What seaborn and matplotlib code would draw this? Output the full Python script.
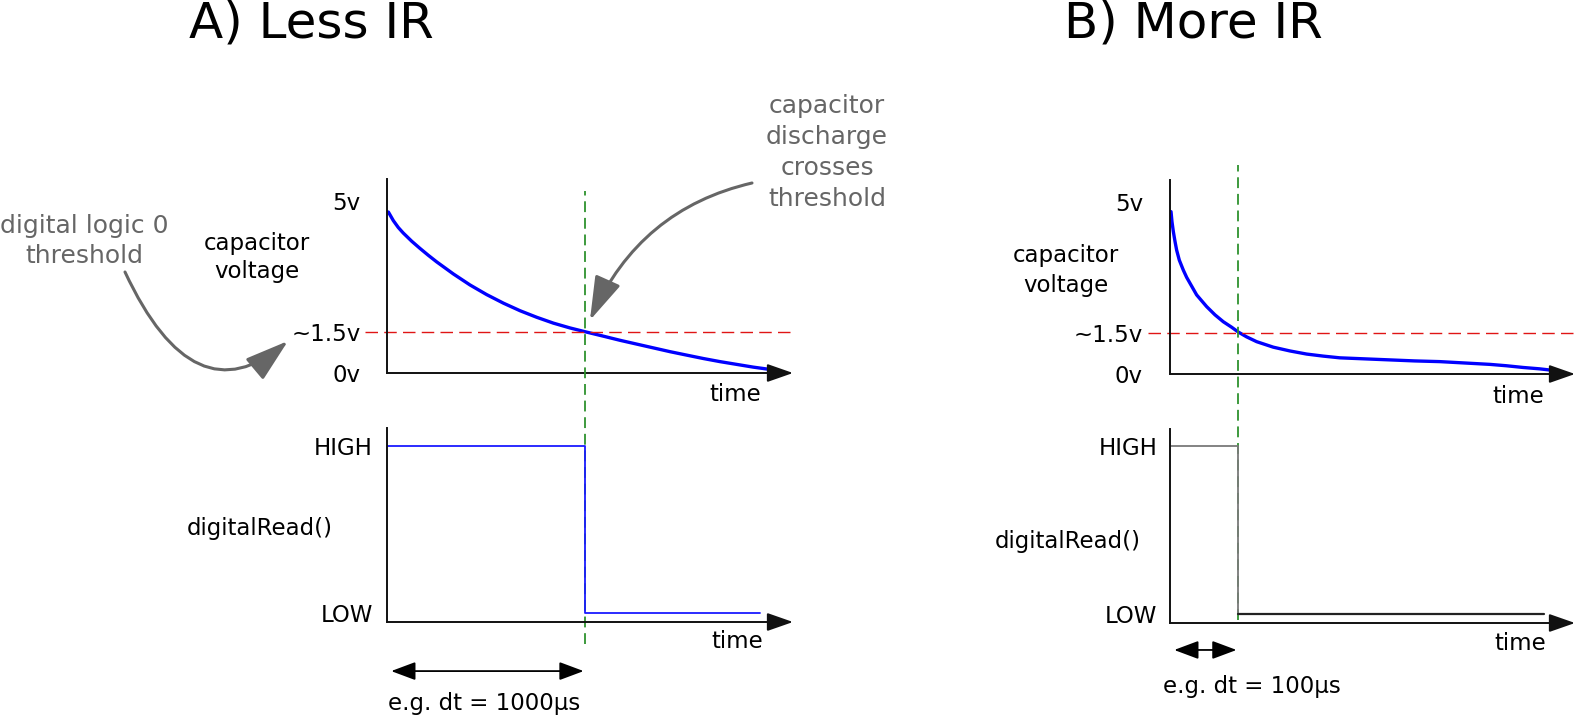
import matplotlib
matplotlib.use("Agg")
import matplotlib.pyplot as plt
from matplotlib.patches import FancyArrowPatch
import seaborn as sns

# capacitor discharge (time in µs, voltage in v)
time_a = [7, 32, 57, 82, 125, 167, 209, 251, 335, 419, 503, 588, 672, 756, 840, 924,
          1000, 1093, 1177, 1261, 1345, 1429, 1513, 1598, 1682, 1766, 1850, 1951]
volt_a = [4.68, 4.43, 4.23, 4.07, 3.83, 3.62, 3.42, 3.23, 2.88, 2.56, 2.28, 2.03, 1.81, 1.62,
          1.45, 1.31, 1.20, 1.07, 0.95, 0.84, 0.73, 0.62, 0.52, 0.42, 0.33, 0.25, 0.17, 0.09]
time_b = [1.5, 2.9, 4.9, 7.4, 9.8, 13.7, 19.6, 24.5, 29.4, 39.2, 53.9, 66.2, 78.4, 90.7,
          100.5, 112.7, 127.5, 152, 176.5, 201, 225.5, 250, 286.8, 323.5, 360.3, 397,
          433.8, 470.6, 495, 519.6, 544, 566]
volt_b = [4.72, 4.43, 4.14, 3.85, 3.60, 3.31, 3.02, 2.81, 2.64, 2.30, 1.96, 1.72, 1.52, 1.36,
          1.22, 1.08, 0.94, 0.78, 0.67, 0.58, 0.52, 0.47, 0.44, 0.41, 0.38, 0.36,
          0.32, 0.28, 0.24, 0.19, 0.15, 0.10]

# digitalRead() output (1 = HIGH, 0 = LOW)
digital_time_a = [0, 1000, 1000, 1885]
digital_level_a = [1, 1, 0, 0]
digital_time_b = [0, 100, 100, 100, 550]
digital_level_b = [1, 1, 0, 0, 0]

cross_a = 1000      # µs
cross_b = 100       # µs
threshold = 1.2     # drawn level of the "~1.5v" line
volt_ticks = [0, threshold, 5]
volt_labels = ["0v", "~1.5v", "5v"]
digital_ticks = [0, 1]
digital_labels = ["LOW", "HIGH"]

W, H = 1577, 716
sns.set_theme(style="white")
plt.rcParams["font.family"] = ["DejaVu Sans"]

fig = plt.figure(figsize=(W / 100, H / 100), dpi=100, facecolor="white")


def box(left, top, right, bottom):
    return [left / W, 1 - bottom / H, (right - left) / W, (bottom - top) / H]


def fpx(x, y):
    return (x / W, 1 - y / H)


def setup_axes(ax, xmax, ylim, ticks, labels, pad):
    ax.set_facecolor("none")
    ax.set_xlim(0, xmax)
    ax.set_ylim(*ylim)
    for s in ["top", "right", "bottom"]:
        ax.spines[s].set_visible(False)
    ax.spines["left"].set_color("#111111")
    ax.spines["left"].set_linewidth(1.4)
    ax.set_xticks([])
    ax.set_yticks(ticks, labels)
    ax.tick_params(axis="y", length=0, pad=pad, labelsize=16.5, labelcolor="black")
    # x axis with arrow head
    ax.annotate("", xy=(1, 0), xytext=(0, 0), xycoords="axes fraction",
                arrowprops=dict(arrowstyle="-|>,head_length=0.8,head_width=0.28",
                                mutation_scale=20, color="#111111", lw=1.4,
                                shrinkA=0, shrinkB=0))


ax_a = fig.add_axes(box(387, 179, 793, 373))
ax_a2 = fig.add_axes(box(387, 428, 793, 622))
ax_b = fig.add_axes(box(1170, 180, 1575, 374))
ax_b2 = fig.add_axes(box(1170, 429, 1575, 623))

setup_axes(ax_a, 2050, (0, 5.64), volt_ticks, volt_labels, 19)
setup_axes(ax_b, 596, (0, 5.64), volt_ticks, volt_labels, 19.5)
setup_axes(ax_a2, 2050, (-0.054, 1.108), digital_ticks, digital_labels, 10)
setup_axes(ax_b2, 596, (-0.054, 1.101), digital_ticks, digital_labels, 9)

# discharge curves
for ax, t, v in [(ax_a, time_a, volt_a), (ax_b, time_b, volt_b)]:
    sns.lineplot(x=t, y=v, ax=ax, color="#0000ff", lw=2.4, estimator=None, sort=False,
                 solid_joinstyle="round", solid_capstyle="round")

# digital outputs
sns.lineplot(x=digital_time_a, y=digital_level_a, ax=ax_a2, color="#1a1aff", lw=1.3,
             estimator=None, sort=False)
sns.lineplot(x=digital_time_b[:3], y=digital_level_b[:3], ax=ax_b2, color="#7a7a7a", lw=1.3,
             estimator=None, sort=False)
sns.lineplot(x=digital_time_b[3:], y=digital_level_b[3:], ax=ax_b2, color="#222222", lw=1.6,
             estimator=None, sort=False)

# threshold lines and crossing markers
ax_a.axhline(threshold, xmin=-0.054, xmax=0.993, color="#e01515", lw=1.0,
             dashes=(9, 4.5), clip_on=False)
ax_b.axhline(threshold, xmin=-0.054, xmax=1.005, color="#e01515", lw=1.0,
             dashes=(9, 4.5), clip_on=False)
ax_a.axvline(cross_a, ymin=-1.397, ymax=0.938, color="#2e922e", lw=1.3,
             dashes=(6, 3.2), clip_on=False, zorder=3)
ax_b.axvline(cross_b, ymin=-1.268, ymax=1.077, color="#2e922e", lw=1.3,
             dashes=(6, 3.2), clip_on=False, zorder=3)

# dt arrows
for ax, cross, yf in [(ax_a2, cross_a, -0.253), (ax_b2, cross_b, -0.139)]:
    ax.annotate("", xy=(cross, yf), xytext=(0, yf), xycoords=("data", "axes fraction"),
                annotation_clip=False,
                arrowprops=dict(arrowstyle="<|-|>,head_length=0.75,head_width=0.28",
                                mutation_scale=20, color="black", lw=1.3,
                                shrinkA=3, shrinkB=1))

# titles
fig.text(*fpx(311, 38), "A) Less IR", ha="center", va="baseline", fontsize=36, color="black")
fig.text(*fpx(1193, 38), "B) More IR", ha="center", va="baseline", fontsize=36, color="black")

# panel labels
lab = dict(ha="center", va="baseline", fontsize=16.5, color="black")
fig.text(*fpx(257, 250), "capacitor", **lab)
fig.text(*fpx(257, 278), "voltage", **lab)
fig.text(*fpx(1066, 262), "capacitor", **lab)
fig.text(*fpx(1066, 292), "voltage", **lab)
fig.text(*fpx(260, 535), "digitalRead()", **lab)
fig.text(*fpx(1068, 548), "digitalRead()", **lab)
fig.text(*fpx(735, 401), "time", **lab)
fig.text(*fpx(1518, 403), "time", **lab)
fig.text(*fpx(737, 648), "time", **lab)
fig.text(*fpx(1520, 650), "time", **lab)
fig.text(*fpx(484, 710), "e.g. dt = 1000µs", **lab)
fig.text(*fpx(1252, 693), "e.g. dt = 100µs", **lab)

# gray call-outs
gray = "#666666"
note = dict(ha="center", va="baseline", fontsize=18, color=gray)
fig.text(*fpx(84, 233), "digital logic 0", **note)
fig.text(*fpx(84, 263), "threshold", **note)
for i, line in enumerate(["capacitor", "discharge", "crosses", "threshold"]):
    fig.text(*fpx(827, 113 + 31 * i), line, **note)

head = "-|>,head_length=1.35,head_width=0.42"
fig.add_artist(FancyArrowPatch(
    fpx(125, 272), fpx(288, 341), transform=fig.transFigure,
    connectionstyle="angle3,angleA=-65,angleB=40", arrowstyle=head,
    mutation_scale=20, color=gray, lw=2.2, shrinkA=0, shrinkB=0))
ax_a.annotate("", xy=(cross_a, threshold), xytext=fpx(752, 183),
              xycoords="data", textcoords="figure fraction", annotation_clip=False,
              arrowprops=dict(arrowstyle=head, mutation_scale=20, color=gray, lw=2.2,
                              connectionstyle="angle3,angleA=193,angleB=68",
                              shrinkA=0, shrinkB=9))

fig.savefig("out.png", dpi=100, facecolor="white")
